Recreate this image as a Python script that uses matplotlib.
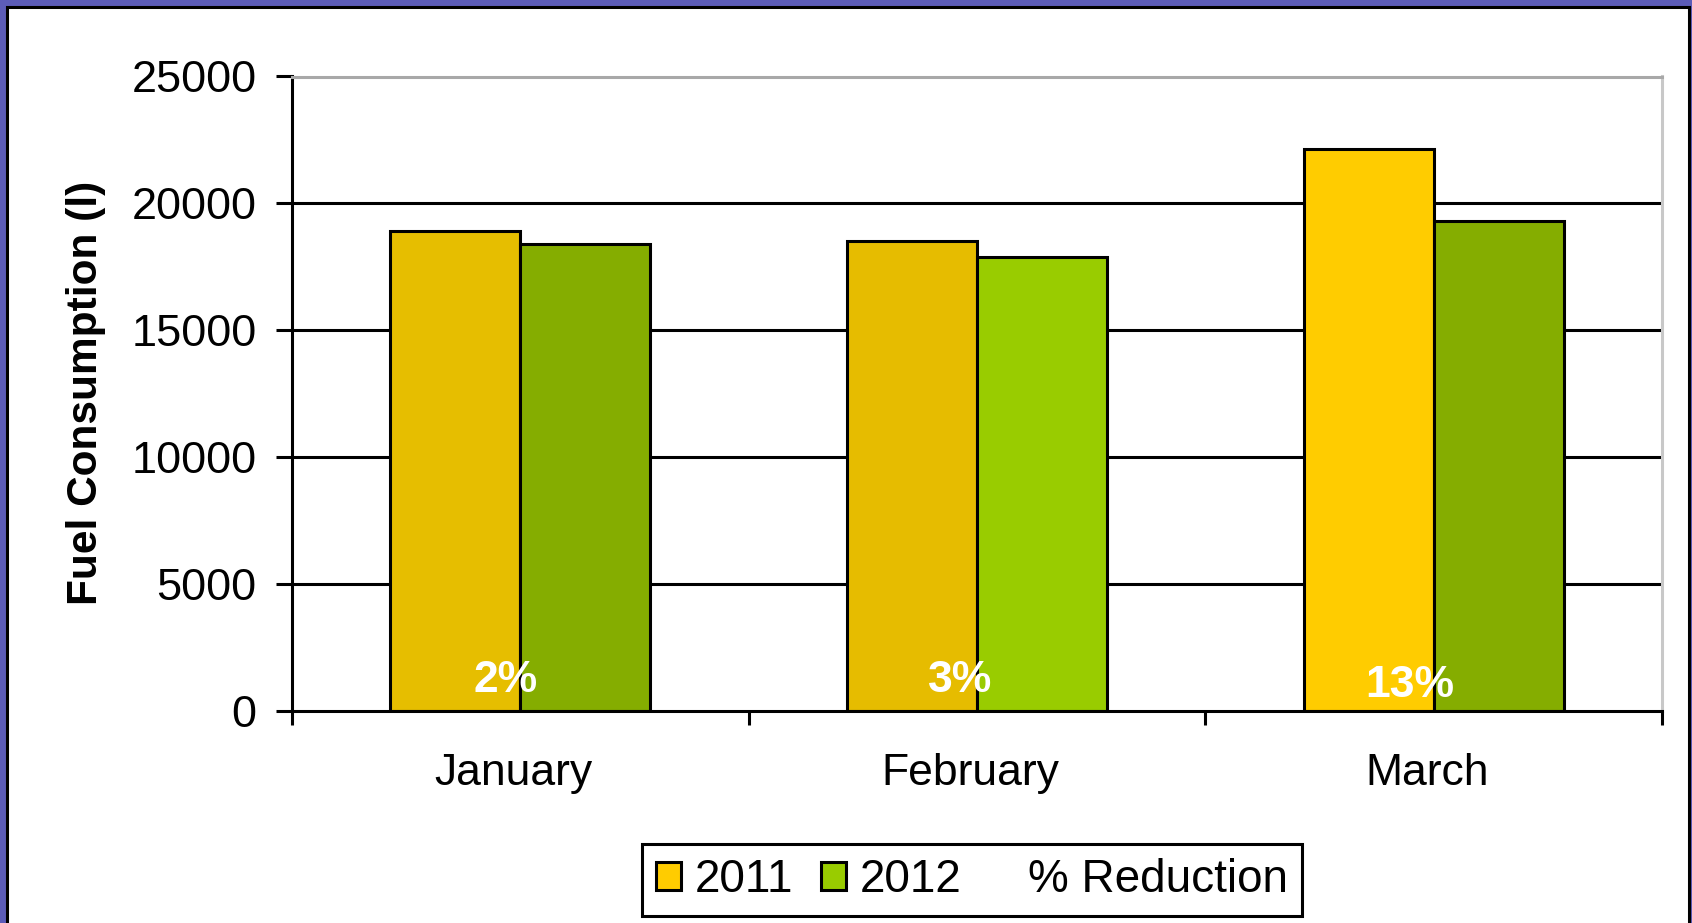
import matplotlib
matplotlib.use('Agg')
import matplotlib.pyplot as plt
from matplotlib.patches import Patch, Rectangle
import numpy as np

months = ['January', 'February', 'March']
fuel_2011 = [18900, 18500, 22150]
fuel_2012 = [18400, 17900, 19300]
reduction = ['2%', '3%', '13%']
y_ticks = [0, 5000, 10000, 15000, 20000, 25000]

# colours of the original slide (each bar has its own shade)
col_2011 = ['#E6BE00', '#E6BC00', '#FFCC00']
col_2012 = ['#85AD00', '#99CC00', '#85AD00']

plt.rcParams['font.family'] = ['Liberation Sans', 'DejaVu Sans']

W, H = 1692, 923
LW = 2.2
fig = plt.figure(figsize=(W / 100, H / 100), dpi=100)
fig.patch.set_facecolor('#5c5cb8')

# white slide panel with black frame, kept behind the axes
panel = Rectangle((7 / W, -0.02), (1689 - 7) / W, 1 - 7 / H + 0.02,
                  transform=fig.transFigure, facecolor='white',
                  edgecolor='black', linewidth=2.2, zorder=-10)
fig.patches.append(panel)

ax = fig.add_axes([292 / W, 1 - 711 / H, (1662 - 292) / W, (711 - 76.5) / H])
ax.set_facecolor('white')

x = np.arange(len(months))
bw = 0.285
ax.bar(x - bw / 2, fuel_2011, bw, color=col_2011, edgecolor='black',
       linewidth=LW, zorder=3)
ax.bar(x + bw / 2, fuel_2012, bw, color=col_2012, edgecolor='black',
       linewidth=LW, zorder=3)

# label placement inside the bars
label_dx = [-0.033, -0.036, -0.052]
label_y = [1200, 1200, 1000]
for i, txt in enumerate(reduction):
    ax.text(x[i] + label_dx[i], label_y[i], txt, color='white',
            fontweight='bold', fontsize=32, ha='center', va='center',
            zorder=5)

ax.set_xlim(-0.5, 2.5)
ax.set_ylim(0, 25000)
ax.set_yticks(y_ticks)
ax.set_yticklabels([str(v) for v in y_ticks], fontsize=32.5)
ax.tick_params(axis='y', length=11.5, width=LW, pad=14, direction='out')

ax.set_xticks([-0.5, 0.5, 1.5, 2.5])
ax.set_xticklabels([])
ax.tick_params(axis='x', which='major', length=10, width=LW, direction='out')
# month names sit a touch left of the category centre in the original
ax.set_xticks(x - 0.015, minor=True)
ax.set_xticklabels(months, minor=True, fontsize=32)
ax.tick_params(axis='x', which='minor', length=0, pad=30)

for v in y_ticks[1:-1]:
    ax.axhline(v, color='black', linewidth=LW, zorder=1)

ax.spines['left'].set_linewidth(LW)
ax.spines['bottom'].set_linewidth(LW)
ax.spines['bottom'].set_zorder(4)
ax.spines['top'].set_color('#a8a8a8')
ax.spines['top'].set_linewidth(LW)
ax.spines['right'].set_color('#c8c8c8')
ax.spines['right'].set_linewidth(LW)

fig.text(86 / W, 1 - 393 / H, 'Fuel Consumption (l)', rotation=90,
         fontsize=30.5, fontweight='bold', ha='center', va='center')

handles = [Patch(facecolor='#FFCC00', edgecolor='black', linewidth=LW),
           Patch(facecolor='#99CC00', edgecolor='black', linewidth=LW),
           Patch(facecolor='none', edgecolor='none')]
leg = fig.legend(handles, ['2011', '2012', '% Reduction'], ncol=3,
                 loc='center', bbox_to_anchor=(972 / W, 1 - 880 / H),
                 fontsize=33, handlelength=0.55, handleheight=0.55,
                 handletextpad=0.3, columnspacing=0.6, borderpad=0.3,
                 fancybox=False, framealpha=1, edgecolor='black')
leg.get_frame().set_linewidth(LW)

fig.savefig('out.png', dpi=100, facecolor=fig.get_facecolor())
